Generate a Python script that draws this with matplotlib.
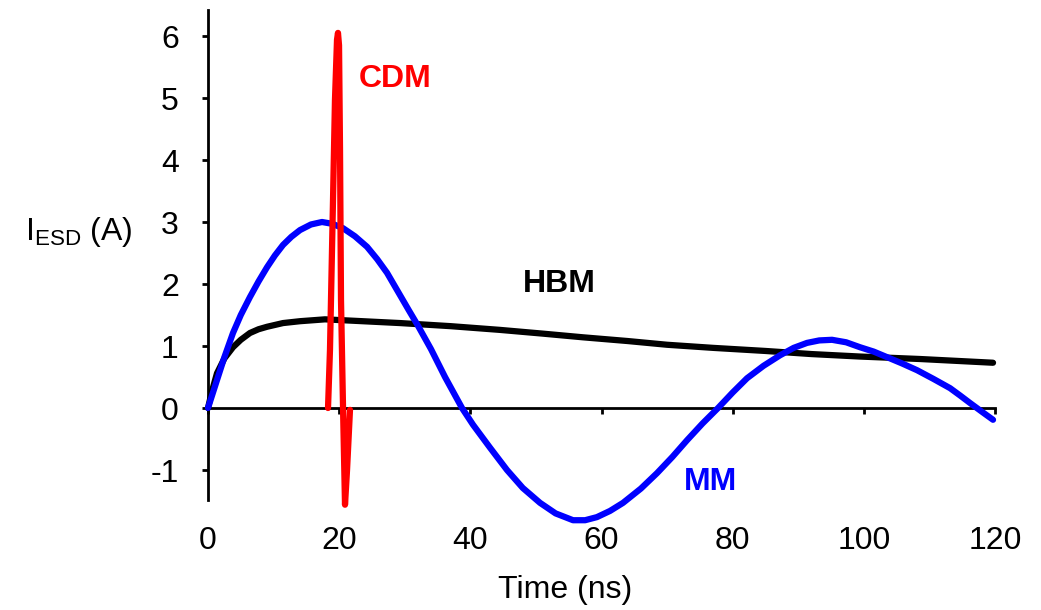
import matplotlib
matplotlib.use("Agg")
import matplotlib.pyplot as plt

plt.rcParams['font.family'] = ['Liberation Sans', 'DejaVu Sans']
plt.rcParams['mathtext.fontset'] = 'custom'
plt.rcParams['mathtext.rm'] = 'Liberation Sans'
plt.rcParams['mathtext.it'] = 'Liberation Sans:italic'
plt.rcParams['mathtext.bf'] = 'Liberation Sans:bold'
plt.rcParams['axes.unicode_minus'] = False

# ---- data ----
hbm_t = [0, 0.6, 1.37, 2.5, 3.81, 5.0, 6.4, 7.7, 9.0, 11.44, 14.03, 17.84, 21.65, 29.28, 37.0,
         44.5, 51.0, 57.2, 64.0, 70.0, 77.0, 85.0, 92.0, 99.4, 108.6, 119.7]
hbm_i = [0, 0.27, 0.56, 0.80, 0.98, 1.10, 1.21, 1.27, 1.31, 1.37, 1.40, 1.43, 1.41, 1.37, 1.32,
         1.26, 1.20, 1.14, 1.08, 1.02, 0.97, 0.92, 0.87, 0.83, 0.79, 0.73]

mm_t = [0, 0.7, 1.37, 2.5, 3.81, 5.0, 6.4, 7.7, 9.0, 10.2, 11.44, 12.7, 14.03, 15.7, 17.38,
        19.0, 20.59, 22.4, 24.25, 25.8, 27.3, 29.28, 30.6, 32.0, 34.0, 36.14, 38.73,
        40.41, 43.0, 45.59, 48.0, 50.63, 53.0, 55.66, 57.5, 59.3, 61.3, 63.28, 66.0, 68.47,
        70.8, 73.04, 75.4, 77.77, 80.0, 82.19, 84.7, 87.22, 89.3, 91.34, 93.2, 95.15,
        97.3, 99.42, 101.5, 103.54, 105.8, 108.11, 110.6, 113.15, 114.7, 116.2, 118.0, 119.7]
mm_i = [0, 0.23, 0.45, 0.82, 1.21, 1.50, 1.79, 2.04, 2.27, 2.46, 2.63, 2.76, 2.87, 2.96, 3.0,
        2.97, 2.90, 2.77, 2.60, 2.40, 2.18, 1.82, 1.58, 1.33, 0.95, 0.50, 0.0,
        -0.27, -0.64, -1.0, -1.29, -1.53, -1.70, -1.81, -1.81, -1.76, -1.66, -1.53, -1.30, -1.05,
        -0.79, -0.52, -0.25, 0.0, 0.25, 0.48, 0.68, 0.85, 0.97, 1.05, 1.09, 1.10,
        1.06, 0.98, 0.91, 0.82, 0.72, 0.61, 0.47, 0.32, 0.20, 0.08, -0.06, -0.19]

cdm_t = [18.30, 18.60, 19.06, 19.36, 19.67, 19.82, 19.98, 20.13, 20.28, 20.59, 20.89, 21.2, 21.65]
cdm_i = [0, 0.94, 3.35, 4.97, 5.94, 6.05, 5.85, 4.16, 1.74, 0, -1.56, -1.0, -0.03]

x_ticks = [0, 20, 40, 60, 80, 100, 120]
y_ticks = [-1, 0, 1, 2, 3, 4, 5, 6]

W, H = 1041, 610
fig = plt.figure(figsize=(W / 100, H / 100), dpi=100)
ax = fig.add_axes([208 / W, 1 - 500 / H, (995 - 208) / W, (500 - 10) / H])
ax.set_xlim(0, 120)
ax.set_ylim((408 - 500) / 62, (408 - 10) / 62)

ax.plot(hbm_t, hbm_i, color='black', lw=4.5, solid_capstyle='round', solid_joinstyle='round',
        clip_on=False, zorder=3)
ax.plot(mm_t, mm_i, color='#0000ff', lw=4.5, solid_capstyle='round', solid_joinstyle='round',
        clip_on=False, zorder=4)
ax.plot(cdm_t, cdm_i, color='#ff0000', lw=4.5, solid_capstyle='round', solid_joinstyle='round',
        clip_on=False, zorder=5)

for s in ['top', 'right']:
    ax.spines[s].set_visible(False)
ax.spines['left'].set_linewidth(2)
ax.spines['bottom'].set_position(('data', 0))
ax.spines['bottom'].set_linewidth(2)

ax.set_xticks(x_ticks)
ax.set_yticks(y_ticks)
ax.tick_params(axis='x', direction='out', length=4, width=2, pad=81, labelsize=23)
ax.tick_params(axis='y', direction='out', length=4, width=2, pad=17, labelsize=23)

fig.text(25 / W, 1 - 232 / H, r'I$_{\mathrm{ESD}}$ (A)', fontsize=23, ha='left', va='center')
fig.text(565 / W, 1 - 590 / H, 'Time (ns)', fontsize=23, ha='center', va='center')

ax.text(23.0, 5.3, 'CDM', color='#ff0000', fontsize=23, fontweight='bold', ha='left', va='center')
ax.text(48.0, 2.0, 'HBM', color='black', fontsize=23, fontweight='bold', ha='left', va='center')
ax.text(72.6, -1.2, 'MM', color='#0000ff', fontsize=23, fontweight='bold', ha='left', va='center')

fig.savefig('out.png', dpi=100)
